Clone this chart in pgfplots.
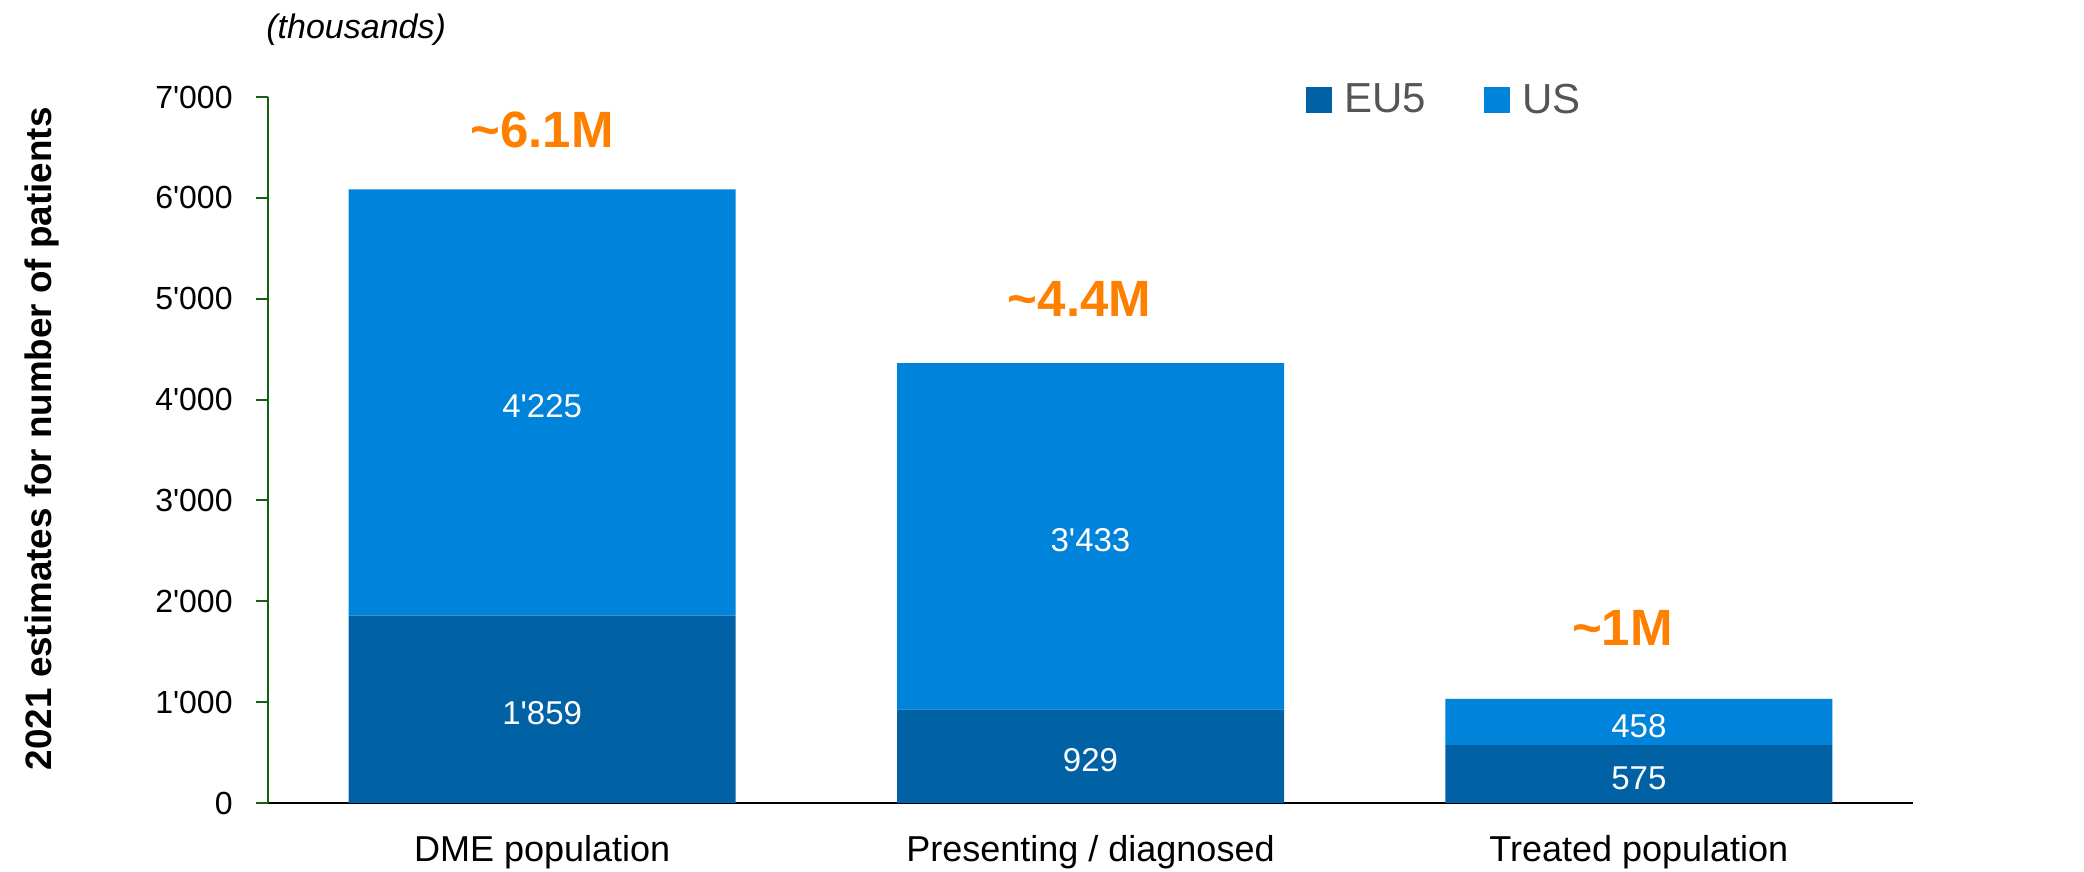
\documentclass[border=0pt]{standalone}
\usepackage{fontspec}
\setmainfont{Liberation Sans}[Ligatures=TeXOff]
\usepackage{pgfplots}
\usepackage{pgfplotstable}
\pgfplotsset{compat=1.18}

\definecolor{euc}{RGB}{0,97,165}
\definecolor{usc}{RGB}{0,131,218}
\definecolor{orng}{RGB}{255,128,0}
\definecolor{axgreen}{RGB}{20,95,20}
\definecolor{leggray}{RGB}{85,85,85}

\tikzset{
  dlab/.style={text=white, yshift=-2pt, font=\fontsize{16.5}{19}\selectfont},
  tot/.style={text=orng, font=\bfseries\fontsize{25.5}{30}\selectfont},
}

% thousands of patients, 2021
\pgfplotstableread{
x  eu   us
0  1859 4225
1  929  3433
2  575  458
}\patients

\begin{document}
\begin{tikzpicture}
\path[use as bounding box] (0,0) rectangle (1042pt,436pt);
\begin{axis}[
    at={(134pt,34.5pt)}, anchor=south west,
    scale only axis, width=822.5pt, height=353pt,
    ybar stacked, bar width=193.5pt,
    xmin=-0.5, xmax=2.5, ymin=0, ymax=7000,
    axis x line*=bottom, axis y line*=left,
    x axis line style={black, line width=1pt},
    y axis line style={axgreen, line width=0.8pt},
    xtick={0,1,2},
    xticklabels={DME population, Presenting / diagnosed, Treated population},
    xtick style={draw=none},
    ytick={0,1000,2000,3000,4000,5000,6000,7000},
    yticklabels={0,1'000,2'000,3'000,4'000,5'000,6'000,7'000},
    ytick style={axgreen, line width=1pt},
    tick align=outside, major tick length=6pt,
    yticklabel style={font=\fontsize{16}{19}\selectfont, anchor=east, inner sep=0pt, xshift=-11.5pt},
    xticklabel style={font=\fontsize{18}{21}\selectfont, anchor=base, inner sep=0pt, yshift=-23.5pt},
    ylabel={2021 estimates for number of patients},
    ylabel style={font=\bfseries\fontsize{18.4}{21}\selectfont, at={(axis description cs:-0.1375,0.516)}, anchor=center},
    legend columns=2,
    legend image code/.code={\fill[#1] (0pt,-6.5pt) rectangle (13pt,6.5pt);},
    legend style={draw=none, fill=none, at={(axis description cs:0.631,1)}, anchor=west,
        yshift=-1.5pt, inner sep=0pt, font=\fontsize{21}{24}\selectfont, text=leggray,
        nodes={inner sep=0pt},
        /tikz/every odd column/.append style={column sep=6pt},
        /tikz/every even column/.append style={column sep=29pt}},
    clip=false,
]
\addplot[fill=euc, draw=none] table[x=x, y=eu] {\patients};
\addplot[fill=usc, draw=none] table[x=x, y=us] {\patients};
\legend{EU5, US}

% segment centres, labelled after the axis so the text sits above the bars
\coordinate (e0) at (axis cs:0,929.5);
\coordinate (u0) at (axis cs:0,3971.5);
\coordinate (e1) at (axis cs:1,464.5);
\coordinate (u1) at (axis cs:1,2645.5);
\coordinate (e2) at (axis cs:2,287.5);
\coordinate (u2) at (axis cs:2,804);

\node[tot] at (axis cs:0,6673) {\textasciitilde6.1M};
\node[tot] at (axis cs:0.98,4997) {\textasciitilde4.4M};
\node[tot] at (axis cs:1.97,1734) {\textasciitilde1M};

\node[anchor=west, inner sep=0pt, xshift=-1pt, yshift=33.7pt, font=\itshape\fontsize{17}{20}\selectfont]
    at (axis description cs:0,1) {(thousands)};
\end{axis}
\node[dlab] at (e0) {1'859};
\node[dlab] at (u0) {4'225};
\node[dlab] at (e1) {929};
\node[dlab] at (u1) {3'433};
\node[dlab] at (e2) {575};
\node[dlab] at (u2) {458};
\end{tikzpicture}
\end{document}
